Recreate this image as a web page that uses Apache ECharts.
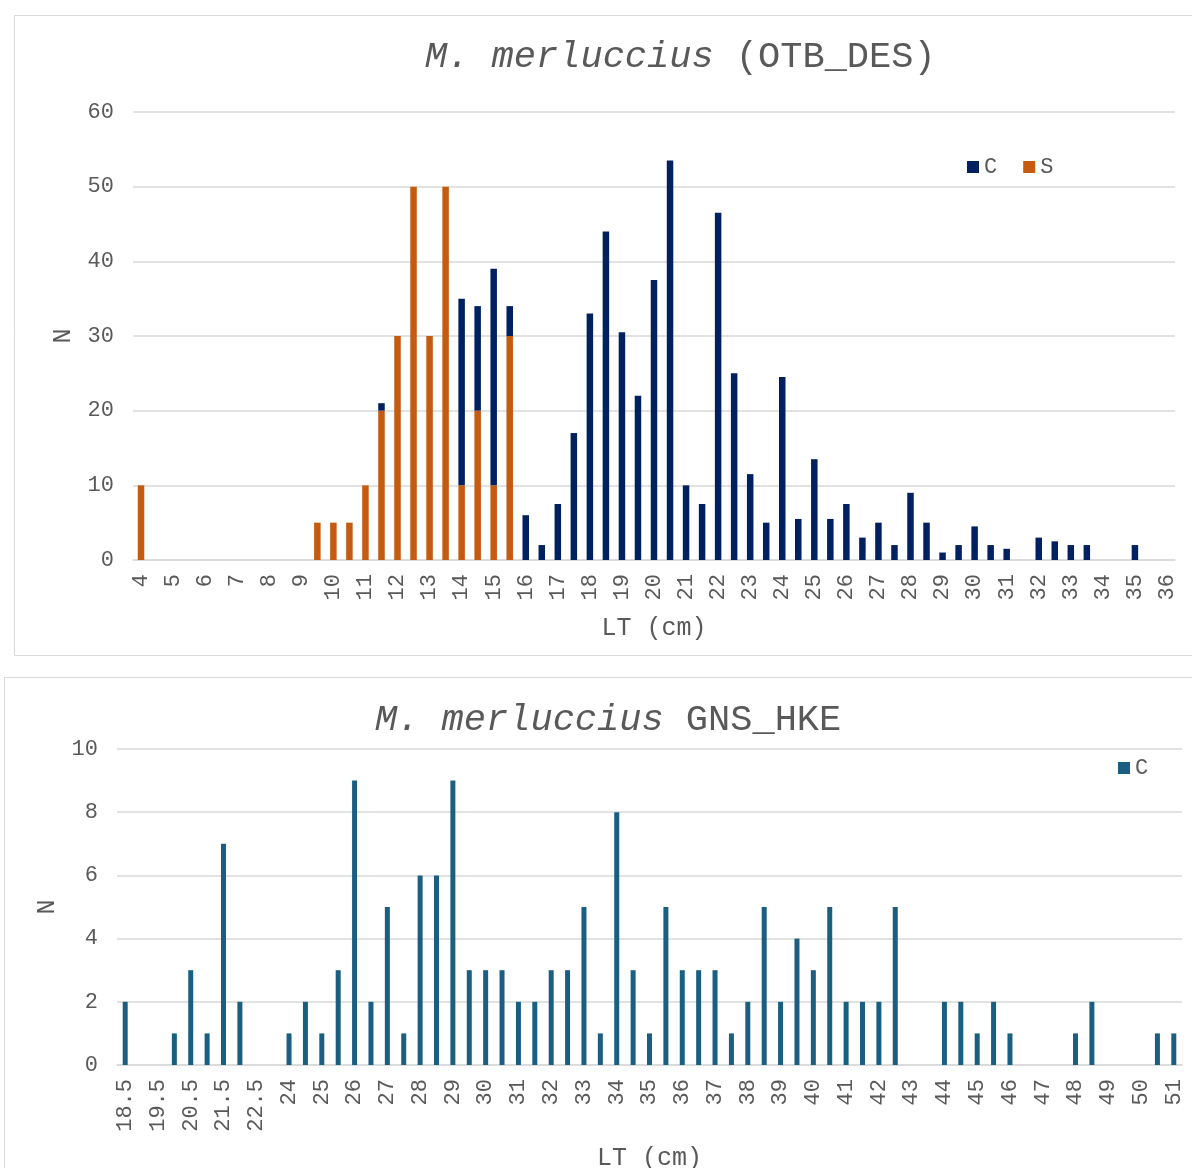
<!DOCTYPE html>
<html>
<head>
<meta charset="utf-8">
<script src="https://cdn.jsdelivr.net/npm/echarts@6/dist/echarts.min.js"></script>
<style>
  html, body { margin: 0; padding: 0; background: #ffffff; overflow: hidden; }
  #otb { position: absolute; left: 0; top: 0; width: 1192px; height: 666px; }
  #gns { position: absolute; left: 0; top: 666px; width: 1192px; height: 502px; }
</style>
</head>
<body>
<div id="otb"></div>
<div id="gns"></div>
<script>
// Length classes (LT, cm) for the OTB_DES sample
const otbLengths = ['4','4.5','5','5.5','6','6.5','7','7.5','8','8.5','9','9.5','10','10.5','11','11.5',
  '12','12.5','13','13.5','14','14.5','15','15.5','16','16.5','17','17.5','18','18.5','19','19.5',
  '20','20.5','21','21.5','22','22.5','23','23.5','24','24.5','25','25.5','26','26.5','27','27.5',
  '28','28.5','29','29.5','30','30.5','31','31.5','32','32.5','33','33.5','34','34.5','35','35.5','36'];
// Counts per length class: S (stacked at the bottom) and C
const otbS = [10,0,0,0,0,0,0,0,0,0,0,5,5,5,10,20,30,50,30,50,10,20,10,30,
  0,0,0,0,0,0,0,0,0,0,0,0,0,0,0,0,0,0,0,0,0,0,0,0,0,0,0,0,0,0,0,0,0,0,0,0,0,0,0,0,0];
const otbC = [0,0,0,0,0,0,0,0,0,0,0,0,0,0,0,1,0,0,0,0,25,14,29,4,
  6,2,7.5,17,33,44,30.5,22,37.5,53.5,10,7.5,46.5,25,11.5,5,24.5,5.5,13.5,5.5,7.5,3,5,2,
  9,5,1,2,4.5,2,1.5,0,3,2.5,2,2,0,0,2,0,0];

// Length classes (LT, cm) for the GNS_HKE sample
const gnsLengths = ['18.5','19','19.5','20','20.5','21','21.5','22','22.5','23',
  '24','24.5','25','25.5','26','26.5','27','27.5','28','28.5','29','29.5','30','30.5',
  '31','31.5','32','32.5','33','33.5','34','34.5','35','35.5','36','36.5','37','37.5',
  '38','38.5','39','39.5','40','40.5','41','41.5','42','42.5','43','43.5','44','44.5',
  '45','45.5','46','46.5','47','47.5','48','48.5','49','49.5','50','50.5','51'];
const gnsC = [2,0,0,1,3,1,7,2,0,0,
  1,2,1,3,9,2,5,1,6,6,9,3,3,3,
  2,2,3,3,5,1,8,3,1,5,3,3,3,1,
  2,5,2,4,3,5,2,2,2,5,0,0,2,2,
  1,2,1,0,0,0,1,2,0,0,0,1,1];

const FONT = "'Liberation Mono', 'Courier New', monospace";
const INK = '#595959';
const GRID_LINE = '#d9d9d9';

function titleRich(italicPart, plainPart) {
  return {
    text: '{i|' + italicPart + ' }{n|' + plainPart + '}',
    textStyle: {
      fontWeight: 'normal',
      rich: {
        i: { fontFamily: FONT, fontSize: 37, fontStyle: 'italic', fontWeight: 'normal', color: INK },
        n: { fontFamily: FONT, fontSize: 37, fontWeight: 'normal', color: INK }
      }
    }
  };
}

function categoryAxis(data, name, nameGap) {
  return {
    type: 'category',
    data: data,
    boundaryGap: true,
    axisTick: { show: false },
    axisLine: { lineStyle: { color: GRID_LINE, width: 1.5 } },
    axisLabel: { rotate: 90, interval: 1, margin: 14, fontFamily: FONT, fontSize: 22, color: INK },
    name: name,
    nameLocation: 'middle',
    nameGap: nameGap,
    nameTextStyle: { fontFamily: FONT, fontSize: 25, color: INK }
  };
}

function valueAxis(max, interval, nameGap) {
  return {
    type: 'value',
    min: 0, max: max, interval: interval,
    axisLine: { show: false },
    axisTick: { show: false },
    splitLine: { lineStyle: { color: GRID_LINE, width: 1.5 } },
    axisLabel: { margin: 19, fontFamily: FONT, fontSize: 22, color: INK },
    name: 'N',
    nameLocation: 'middle',
    nameRotate: 90,
    nameGap: nameGap,
    nameTextStyle: { fontFamily: FONT, fontSize: 25, color: INK }
  };
}

// Upper panel: OTB_DES, stacked S + C
const otbChart = echarts.init(document.getElementById('otb'), null, { renderer: 'canvas' });
otbChart.setOption({
  animation: false,
  backgroundColor: '#ffffff',
  graphic: [{
    type: 'rect', shape: { x: 14.5, y: 15.5, width: 1300, height: 640 },
    style: { fill: 'none', stroke: GRID_LINE, lineWidth: 1 }, silent: true
  }],
  title: Object.assign({ left: 420, top: 34 }, titleRich('M. merluccius', '(OTB_DES)')),
  legend: {
    data: ['C', 'S'],
    left: 962, top: 151,
    itemWidth: 12, itemHeight: 12, itemGap: 26,
    icon: 'rect',
    textStyle: { fontFamily: FONT, fontSize: 22, color: INK }
  },
  grid: { left: 133, right: 17, top: 112, bottom: 106, containLabel: false, outerBoundsMode: 'none' },
  xAxis: categoryAxis(otbLengths, 'LT (cm)', 56),
  yAxis: valueAxis(60, 10, 57),
  series: [
    { name: 'S', type: 'bar', stack: 'n', data: otbS, barWidth: 6.5, itemStyle: { color: '#C55A11' } },
    { name: 'C', type: 'bar', stack: 'n', data: otbC, barWidth: 6.5, itemStyle: { color: '#002060' } }
  ]
});

// Lower panel: GNS_HKE, C only
const gnsChart = echarts.init(document.getElementById('gns'), null, { renderer: 'canvas' });
gnsChart.setOption({
  animation: false,
  backgroundColor: '#ffffff',
  graphic: [{
    type: 'rect', shape: { x: 4.5, y: 11.5, width: 1300, height: 600 },
    style: { fill: 'none', stroke: GRID_LINE, lineWidth: 1 }, silent: true
  }],
  title: Object.assign({ left: 370, top: 31 }, titleRich('M. merluccius', 'GNS_HKE')),
  legend: {
    data: ['C'],
    left: 1113, top: 86,
    itemWidth: 12, itemHeight: 12,
    icon: 'rect',
    textStyle: { fontFamily: FONT, fontSize: 22, color: INK }
  },
  grid: { left: 117, right: 10, top: 83, bottom: 103, containLabel: false, outerBoundsMode: 'none' },
  xAxis: categoryAxis(gnsLengths, 'LT (cm)', 81),
  yAxis: valueAxis(10, 2, 57),
  series: [
    { name: 'C', type: 'bar', data: gnsC, barWidth: 5, itemStyle: { color: '#1A5E82' } }
  ]
});
</script>
</body>
</html>
